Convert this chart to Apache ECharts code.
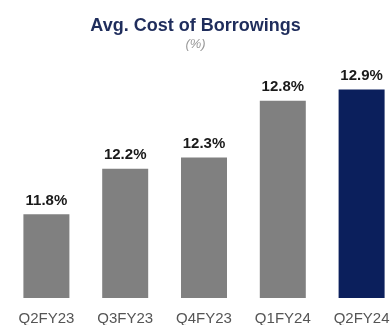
<!DOCTYPE html>
<html><head><meta charset="utf-8">
<script src="https://cdn.jsdelivr.net/npm/echarts@6/dist/echarts.min.js"></script>
<style>html,body{margin:0;padding:0;background:#fff}#c{width:391px;height:325px}</style>
</head><body><div id="c"></div>
<script>
const categories = ['Q2FY23','Q3FY23','Q4FY23','Q1FY24','Q2FY24'];
const values = [11.8, 12.2, 12.3, 12.8, 12.9];
const barColors = ['#808080','#808080','#808080','#808080','#0b1f5c'];

const chart = echarts.init(document.getElementById('c'));
chart.setOption({
  animation: false,
  title: {
    text: 'Avg. Cost of Borrowings',
    subtext: '(%)',
    left: 'center', top: 12, itemGap: 3,
    textStyle: {fontFamily: 'Liberation Sans, Arial', fontWeight: 'bold', fontSize: 18, color: '#1f2d5c'},
    subtextStyle: {fontFamily: 'Liberation Sans, Arial', fontStyle: 'italic', fontSize: 13, color: '#999'}
  },
  grid: {left: 7, right: -10, top: 60, bottom: 27, outerBoundsMode: 'none', containLabel: false},
  xAxis: {
    type: 'category', data: categories,
    axisLine: {show: false}, axisTick: {show: false},
    axisLabel: {fontFamily: 'Liberation Sans, Arial', fontSize: 15, color: '#555', margin: 13}
  },
  yAxis: {type: 'value', min: 11.06, max: 13.16, show: false, splitLine: {show: false}},
  series: [{
    type: 'bar', barWidth: 46,
    data: values.map((v, i) => ({value: v, itemStyle: {color: barColors[i]}})),
    label: {show: true, position: 'top', distance: 6, formatter: p => p.value.toFixed(1) + '%',
      fontFamily: 'Liberation Sans, Arial', fontWeight: 'bold', fontSize: 15, color: '#1a1a1a'}
  }]
});
</script></body></html>
